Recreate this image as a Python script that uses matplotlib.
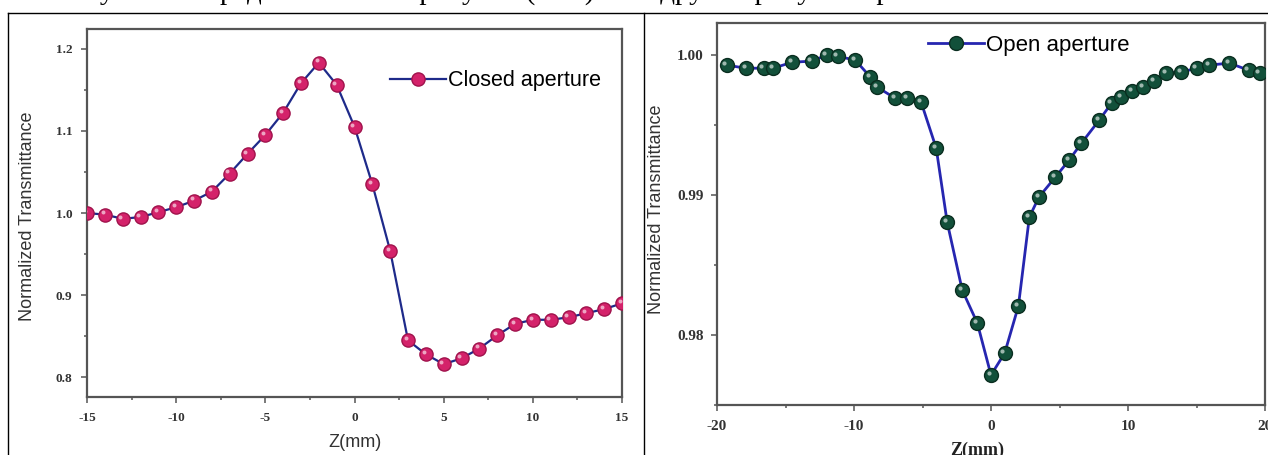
import numpy as np
import matplotlib.pyplot as plt
from matplotlib.lines import Line2D
from matplotlib.ticker import MultipleLocator
from matplotlib import transforms

# closed aperture z-scan (left panel)
z_closed = [-15, -14, -13, -12, -11, -10, -9, -8, -7, -6, -5, -4, -3, -2, -1, 0,
            1, 2, 3, 4, 5, 6, 7, 8, 9, 10, 11, 12, 13, 14, 15]
t_closed = [1.000, 0.998, 0.993, 0.995, 1.001, 1.007, 1.015, 1.026, 1.048, 1.072,
            1.095, 1.122, 1.158, 1.183, 1.156, 1.105, 1.035, 0.954, 0.845, 0.828,
            0.816, 0.823, 0.835, 0.851, 0.865, 0.870, 0.870, 0.873, 0.878, 0.883,
            0.890]

# open aperture z-scan (right panel)
z_open = [-19.3, -17.9, -16.6, -15.9, -14.5, -13.1, -12.0, -11.2, -9.9, -8.8,
          -8.3, -7.0, -6.1, -5.1, -4.0, -3.2, -2.1, -1.0, 0.0, 1.0, 2.0, 2.8,
          3.5, 4.7, 5.7, 6.6, 7.9, 8.8, 9.5, 10.3, 11.1, 11.9, 12.8, 13.9, 15.0,
          15.9, 17.4, 18.8, 19.6]
t_open = [0.99929, 0.99907, 0.99907, 0.99907, 0.99950, 0.99957, 1.00000, 0.99993,
          0.99964, 0.99843, 0.99771, 0.99693, 0.99693, 0.99664, 0.99336, 0.98807,
          0.98321, 0.98086, 0.97714, 0.97871, 0.98207, 0.98843, 0.98986, 0.99129,
          0.99250, 0.99371, 0.99536, 0.99657, 0.99700, 0.99743, 0.99771, 0.99814,
          0.99871, 0.99879, 0.99907, 0.99929, 0.99943, 0.99893, 0.99871]

W, H = 1268, 455
fig = plt.figure(figsize=(W / 100, H / 100), dpi=100)

sans = 'Liberation Sans'
serif = 'Liberation Serif'


# pixel box (left, top, right, bottom) -> axes
def px_axes(l, t, r, b):
    return fig.add_axes([l / W, 1 - b / H, (r - l) / W, (b - t) / H])


def style_axes(ax, tick_size, pad_x, pad_y):
    for s in ax.spines.values():
        s.set_color('#555555')
        s.set_linewidth(1.6)
    ax.tick_params(which='both', direction='out', top=False, right=False,
                   color='#555555', width=1.1)
    ax.tick_params(which='major', length=4.5)
    ax.tick_params(which='minor', length=2.5)
    ax.tick_params(axis='x', pad=pad_x)
    ax.tick_params(axis='y', pad=pad_y)
    for lab in ax.get_xticklabels() + ax.get_yticklabels():
        lab.set_fontfamily(serif)
        lab.set_fontweight('bold')
        lab.set_fontsize(tick_size)
        lab.set_color('#333333')


def draw_series(ax, x, y, line_c, face, edge, ms, lw):
    ax.plot(x, y, '-', color=line_c, lw=lw, zorder=2)
    ax.plot(x, y, 'o', ls='none', ms=ms, mfc=face, mec=edge, mew=1.0, zorder=3)
    # little highlight on each ball
    hl = transforms.offset_copy(ax.transData, fig=fig, x=-1.6, y=1.6, units='points')
    ax.plot(x, y, 'o', ls='none', ms=ms * 0.3, mfc='white', mec='none',
            alpha=0.6, transform=hl, zorder=4)


# ---- left panel: closed aperture
ax1 = px_axes(87, 29, 622, 397)
draw_series(ax1, z_closed, t_closed, '#1e2a8a', '#d4226a', '#a0134c', 9.5, 1.6)
ax1.set_xlim(-15, 15)
ax1.set_ylim(0.776, 1.224)
ax1.xaxis.set_minor_locator(MultipleLocator(2.5))
ax1.yaxis.set_minor_locator(MultipleLocator(0.05))
ax1.set_xticks([-15, -10, -5, 0, 5, 10, 15])
ax1.set_xticklabels(['-15', '-10', '-5', '0', '5', '10', '15'])
ax1.set_yticks([0.8, 0.9, 1.0, 1.1, 1.2])
ax1.set_yticklabels(['0.8', '0.9', '1.0', '1.1', '1.2'])
style_axes(ax1, 9.5, 6, 6)
ax1.set_ylabel('Normalized Transmittance', fontfamily=sans, fontsize=13, color='#333333')
ax1.yaxis.set_label_coords(-0.095, 0.49)
ax1.set_xlabel('Z(mm)', fontfamily=sans, fontsize=13, color='#333333')
ax1.xaxis.set_label_coords(0.501, -0.1)

h1 = Line2D([], [], color='#1e2a8a', lw=1.6, marker='o', ms=9.5,
            mfc='#d4226a', mec='#a0134c')
ax1.legend([h1], ['Closed aperture'], loc='center left',
           bbox_to_anchor=(0.566, 0.859), frameon=False, borderpad=0,
           borderaxespad=0, handlelength=2.6, handletextpad=0.1,
           prop={'family': sans, 'size': 15.5})

# ---- right panel: open aperture
ax2 = px_axes(717, 23, 1265, 405)
draw_series(ax2, z_open, t_open, '#2626b0', '#12503a', '#0a2e20', 10, 2.0)
ax2.set_xlim(-20, 20)
ax2.set_ylim(0.975, 1.0023)
ax2.set_xticks([-20, -10, 0, 10, 20])
ax2.set_xticklabels(['-20', '-10', '0', '10', '20'])
ax2.xaxis.set_minor_locator(MultipleLocator(5))
ax2.set_yticks([0.98, 0.99, 1.00])
ax2.set_yticklabels(['0.98', '0.99', '1.00'])
ax2.yaxis.set_minor_locator(MultipleLocator(0.005))
style_axes(ax2, 11, 6.5, 5)
ax2.set_ylabel('Normalized Transmittance', fontfamily=sans, fontsize=13, color='#333333')
ax2.yaxis.set_label_coords(-0.095, 0.513)
ax2.set_xlabel('Z(mm)', fontfamily=serif, fontweight='bold', fontsize=13, color='#222222')
ax2.xaxis.set_label_coords(0.474, -0.095)

h2 = Line2D([], [], color='#2626b0', lw=2.0, marker='o', ms=10,
            mfc='#12503a', mec='#0a2e20')
ax2.legend([h2], ['Open aperture'], loc='center left',
           bbox_to_anchor=(0.385, 0.942), frameon=False, borderpad=0,
           borderaxespad=0, handlelength=2.5, handletextpad=0.1,
           prop={'family': sans, 'size': 16})

# ---- table borders of the document page
page = fig.add_axes([0, 0, 1, 1], zorder=-1)
page.set_xlim(0, W)
page.set_ylim(H, 0)
page.axis('off')
page.plot([8, W], [13, 13], color='black', lw=1.0)
page.plot([8, 8], [13, H], color='black', lw=1.0)
page.plot([644, 644], [13, H], color='black', lw=1.0)

# clipped line of document text above the table (only descenders show)
fig.text(60 / W, 1 + 1 / H,
         'Результаты представлены на рисунке (3.4а) и на другом рисунке при',
         fontfamily=serif, fontsize=21, va='baseline', ha='left')

fig.savefig('out.png', dpi=100)
